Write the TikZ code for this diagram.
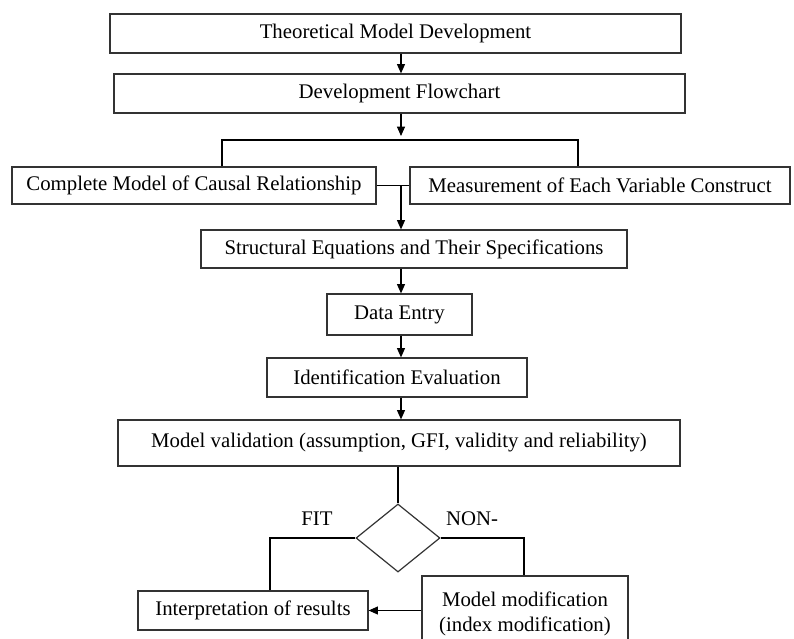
\documentclass[tikz,border=0pt]{standalone}
\usepackage{fontspec}
\setmainfont{Liberation Serif}
\usetikzlibrary{arrows.meta,shapes.geometric}
\begin{document}
\begin{tikzpicture}[x=0.75pt,y=-0.75pt,
  line width=0.8pt,
  bx/.style 2 args={draw=black!80, line width=0.9pt, rectangle, inner sep=0pt,
     minimum width=#1*0.75pt, minimum height=#2*0.75pt, font=\fontsize{15.6}{18.75}\selectfont, align=center},
  arr/.style={-{Triangle[length=7pt,width=6pt]}},
  lbl/.style={font=\fontsize{15.6}{18.75}\selectfont, inner sep=0pt}]
\clip (0,0) rectangle (794,639);
\fill[white] (0,0) rectangle (794,639);
\coordinate (ax) at (401,0);
\node[bx={571}{39}] (b1) at (395.5,33.5) {Theoretical Model Development};
\node[bx={571}{39}] (b2) at (399.5,93.5) {Development Flowchart};
\node[bx={364}{37}] (cm) at (194,185.5) {Complete Model of Causal Relationship};
\node[bx={380}{37}] (me) at (600,185.5) {Measurement of Each Variable Construct};
\node[bx={426}{38}] (se) at (414,249) {Structural Equations and Their Specifications};
\node[bx={145}{41}] (de) at (399.5,314.5) {Data Entry};
\node[bx={260}{39}] (ie) at (397,377.5) {Identification Evaluation};
\node[bx={562}{46}] (mv) at (399,443) {Model validation (assumption, GFI, validity and reliability)};
\node[draw=black!80, line width=0.9pt, diamond, inner sep=0pt, minimum width=84*0.75pt, minimum height=68*0.75pt] (dia) at (398,538) {};
\node[bx={230}{39}] (ir) at (253,610.5) {Interpretation of results};
\node[bx={206}{76}] (mm) at (525,614) {Model modification\\(index modification)};
\coordinate (brk) at (401,136);
\coordinate (bl) at (222,140);
\coordinate (br) at (578,140);
\coordinate (fl) at (270,538);
\coordinate (fr) at (524,538);
\draw[arr] (b1.south -| ax) -- (b2.north -| ax);
\draw[arr] (b2.south -| ax) -- (brk);
\draw (bl |- cm.north) -- (bl) -- (br) -- (br |- me.north);
\draw (cm.east) -- (me.west);
\draw[arr] (cm.east -| ax) -- (se.north -| ax);
\draw[arr] (se.south -| ax) -- (de.north -| ax);
\draw[arr] (de.south -| ax) -- (ie.north -| ax);
\draw[arr] (ie.south -| ax) -- (mv.north -| ax);
\draw (mv.south -| dia) -- (dia.north);
\draw (dia.west) -- (fl) -- (fl |- ir.north);
\draw (dia.east) -- (fr) -- (fr |- mm.north);
\draw[arr] (mm.west |- ir.east) -- (ir.east);
\node[lbl] (fit) at (317,519) {FIT};
\node[lbl] (non) at (472,519) {NON-};
\end{tikzpicture}
\end{document}
